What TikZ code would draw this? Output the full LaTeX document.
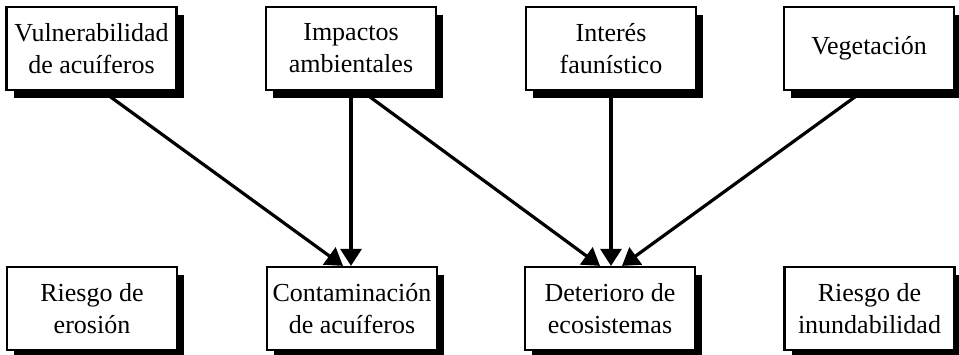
\documentclass[tikz,border=0pt]{standalone}
\usepackage{fontspec}
\setmainfont{Liberation Serif}
\usetikzlibrary{arrows.meta,shadows}

\tikzset{
    caja/.style={draw, fill=white, line width=2.2pt, minimum width=170pt, minimum height=83pt,
        inner sep=2pt, align=center, font=\fontsize{26}{32}\selectfont,
        drop shadow={shadow xshift=7pt, shadow yshift=-8pt, fill=black, opacity=1}},
    flecha/.style={-{Triangle[length=17pt,width=21pt]}, line width=3.2pt}
}

\begin{document}
\begin{tikzpicture}[x=1pt, y=1pt]
        \useasboundingbox (0,0) rectangle (959,355);

        \node[caja] (vuln) at (91.5,306.5) {Vulnerabilidad\\de acuíferos};
        \node[caja] (impactos) at (351,306.5) {Impactos\\ambientales};
        \node[caja] (interes) at (611,306.5) {Interés\\faunístico};
        \node[caja] (veget) at (869,306.5) {Vegetación};

        \node[caja] (erosion) at (92,46.5) {Riesgo de\\erosión};
        \node[caja] (contam) at (352,46.5) {Contaminación\\de acuíferos};
        \node[caja] (deterioro) at (610,46.5) {Deterioro de\\ecosistemas};
        \node[caja] (inund) at (869.5,46.5) {Riesgo de\\inundabilidad};

        \draw [flecha]
            ([xshift=11pt]vuln.south) -- ([xshift=-9pt]contam.north);
        \draw [flecha]
            (impactos.south) -- (contam.north -| impactos.south);
        \draw [flecha]
            ([xshift=11pt]impactos.south) -- ([xshift=-10pt]deterioro.north);
        \draw [flecha]
            (interes.south) -- (deterioro.north -| interes.south);
        \draw [flecha]
            ([xshift=-6pt]veget.south) -- ([xshift=12pt]deterioro.north);

    \end{tikzpicture}
\end{document}
